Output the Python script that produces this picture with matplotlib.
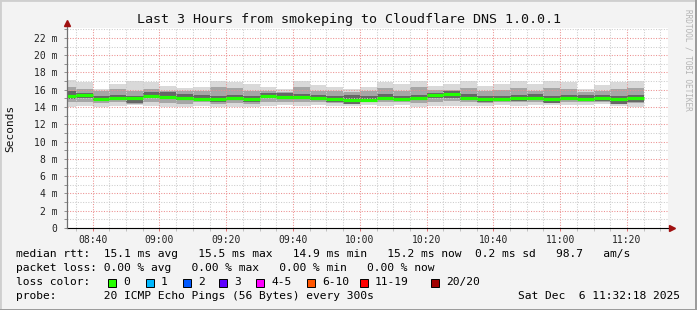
import numpy as np
import pandas as pd
import matplotlib
matplotlib.use("Agg")
import matplotlib.pyplot as plt
import matplotlib.dates as mdates
from matplotlib.patches import Rectangle
from matplotlib.ticker import FixedLocator, FixedFormatter, MultipleLocator


# -------------------------------------------------
# Data
# -------------------------------------------------

# one smoke block per 5 minute step (300 s)
block_start = pd.date_range("2025-12-06 08:30", periods=35, freq="5min")

median_ms = [15.31, 15.43, 14.97, 15.08, 15.06, 15.31, 15.20, 15.08, 14.97, 14.97,
             15.08, 14.97, 15.31, 15.16, 15.16, 15.04, 14.93, 14.85, 14.85, 15.04,
             14.93, 15.08, 15.39, 15.50, 15.08, 14.93, 14.93, 15.04, 15.08, 14.97,
             15.04, 14.93, 15.04, 14.93, 15.10]

smoke_top = [17.13, 16.86, 16.09, 16.67, 17.00, 16.94, 16.47, 16.24, 16.32, 17.01,
             16.94, 16.63, 16.36, 16.09, 17.01, 16.55, 16.36, 16.09, 16.36, 16.94,
             16.63, 17.00, 16.47, 16.70, 17.00, 16.47, 16.70, 17.00, 16.70, 17.00,
             16.86, 16.09, 16.55, 16.86, 17.00]

smoke_upper = [16.3, 16.1, 15.8, 16.1, 15.9, 16.1, 15.9, 15.9, 15.8, 16.3,
               16.2, 15.9, 15.8, 15.7, 16.3, 15.9, 15.8, 15.7, 15.8, 16.2,
               15.9, 16.3, 16.0, 16.0, 16.2, 15.9, 16.0, 16.2, 15.9, 16.2,
               16.1, 15.7, 15.9, 16.1, 16.2]

core_hi = [15.8, 15.6, 15.3, 15.4, 15.3, 15.7, 15.7, 15.5, 15.4, 15.3,
           15.4, 15.3, 15.6, 15.6, 15.5, 15.4, 15.3, 15.4, 15.3, 15.5,
           15.3, 15.4, 15.6, 15.8, 15.5, 15.3, 15.3, 15.4, 15.5, 15.3,
           15.4, 15.4, 15.4, 15.3, 15.4]

core_lo = [14.9, 15.0, 14.7, 14.8, 14.5, 15.0, 15.0, 14.8, 14.7, 14.6,
           14.8, 14.6, 15.0, 14.9, 14.9, 14.8, 14.6, 14.4, 14.6, 14.8,
           14.7, 14.8, 15.0, 15.1, 14.8, 14.6, 14.7, 14.7, 14.8, 14.5,
           14.8, 14.7, 14.7, 14.4, 14.6]

smoke_lower = [14.6, 14.6, 14.5, 14.6, 14.4, 14.6, 14.5, 14.4, 14.6, 14.4,
               14.5, 14.4, 14.6, 14.6, 14.6, 14.6, 14.5, 14.5, 14.6, 14.6,
               14.6, 14.5, 14.6, 14.7, 14.6, 14.5, 14.6, 14.6, 14.6, 14.5,
               14.6, 14.6, 14.6, 14.5, 14.5]

smoke_bottom = [14.04, 14.16, 14.04, 14.16, 14.24, 14.16, 14.04, 14.00, 14.16, 14.04,
                14.04, 14.04, 14.16, 14.24, 14.16, 14.24, 14.16, 14.16, 14.24, 14.16,
                14.24, 14.04, 14.16, 14.16, 14.16, 14.16, 14.24, 14.16, 14.24, 14.24,
                14.24, 14.24, 14.31, 14.16, 14.04]

y_ticks = [0, 2, 4, 6, 8, 10, 12, 14, 16, 18, 20, 22]
y_labels = ["0", "2 m", "4 m", "6 m", "8 m", "10 m", "12 m", "14 m",
            "16 m", "18 m", "20 m", "22 m"]

title = "Last 3 Hours from smokeping to Cloudflare DNS 1.0.0.1"
window_start = "2025-12-06 08:32:18"
window_end = "2025-12-06 11:32:18"

rtt_line = "median rtt:  15.1 ms avg   15.5 ms max   14.9 ms min   15.2 ms now  0.2 ms sd   98.7   am/s"
loss_line = "packet loss: 0.00 % avg   0.00 % max   0.00 % min   0.00 % now"
probe_line = "probe:       20 ICMP Echo Pings (56 Bytes) every 300s"
stamp = "Sat Dec  6 11:32:18 2025"

loss_labels = ["0", "1", "2", "3", "4-5", "6-10", "11-19", "20/20"]
loss_colors = ["#26ff00", "#00b8ff", "#0059ff", "#5e00ff",
               "#ff00ff", "#ff5500", "#ff0000", "#a10000"]


# -------------------------------------------------
# Layout helpers (pixels of the 697x310 image)
# -------------------------------------------------

W, H = 697, 310
BG = "#f3f3f3"
MONO = "DejaVu Sans Mono"
plt.rcParams["font.family"] = MONO


def fx(px):
    return px / W


def fy(py):
    return 1.0 - py / H


fig = plt.figure(figsize=(W / 100, H / 100), dpi=100, facecolor=BG)
ax = fig.add_axes([fx(67), fy(228), fx(668) - fx(67), fy(28) - fy(228)])
ax.set_facecolor("white")

# -------------------------------------------------
# Smoke and median
# -------------------------------------------------

x0 = mdates.date2num(block_start.to_pydatetime())
step = 5.0 / 1440.0

top = np.array(smoke_top)
bot = np.array(smoke_bottom)
up = np.array(smoke_upper)
lo = np.array(smoke_lower)
chi = np.array(core_hi)
clo = np.array(core_lo)

ax.bar(x0, top - bot, bottom=bot, width=step, align="edge",
       color="#d9d9d9", linewidth=0, zorder=1)
ax.bar(x0, up - lo, bottom=lo, width=step, align="edge",
       color="#a6a6a6", linewidth=0, zorder=1.1)
ax.bar(x0, chi - clo, bottom=clo, width=step, align="edge",
       color="#666666", linewidth=0, zorder=1.2)
ax.hlines(median_ms, x0, x0 + step, colors="#22ff00", linewidth=2.3, zorder=4)

# -------------------------------------------------
# Axes, grid, ticks
# -------------------------------------------------

ax.set_xlim(mdates.date2num(pd.Timestamp(window_start)),
            mdates.date2num(pd.Timestamp(window_end)))
ax.set_ylim(0, 23.15)

ax.xaxis.set_major_locator(mdates.MinuteLocator(byminute=[0, 20, 40]))
ax.xaxis.set_minor_locator(mdates.MinuteLocator(byminute=range(0, 60, 5)))
ax.xaxis.set_major_formatter(mdates.DateFormatter("%H:%M"))
ax.yaxis.set_major_locator(FixedLocator(y_ticks))
ax.yaxis.set_major_formatter(FixedFormatter(y_labels))
ax.yaxis.set_minor_locator(MultipleLocator(1))

dot = (0, (1, 1.5))
ax.grid(which="minor", color="#cccccc", linestyle=dot, linewidth=0.75, zorder=3)
ax.grid(which="major", color="#ec9090", linestyle=dot, linewidth=0.75, zorder=3.1)
ax.set_axisbelow(False)

ax.tick_params(axis="both", which="both", direction="out", length=2.2,
               width=0.7, labelsize=7, colors="#222222")
ax.tick_params(axis="x", which="major", color="#e07070", pad=2.5)
ax.tick_params(axis="x", which="minor", color="#c0c0c0")
ax.tick_params(axis="y", which="both", color="#909090", pad=4.5)

for side in ["top", "right", "bottom", "left"]:
    ax.spines[side].set_visible(False)

# axis lines with arrows
ax.plot([0, 1.006], [0, 0], transform=ax.transAxes, color="black",
        linewidth=0.8, clip_on=False, zorder=5)
ax.plot([0, 0], [0, 1.02], transform=ax.transAxes, color="#707070",
        linewidth=0.9, clip_on=False, zorder=5)
ax.plot([1.007], [0], marker=">", markersize=4.5, color="#a01010",
        transform=ax.transAxes, clip_on=False, zorder=6)
ax.plot([0], [1.027], marker="^", markersize=4.5, color="#a01010",
        transform=ax.transAxes, clip_on=False, zorder=6)

# -------------------------------------------------
# Texts
# -------------------------------------------------

fig.text(fx(349), fy(19), title, ha="center", va="center", fontsize=9.6,
         color="#111111")
fig.text(fx(10), fy(128), "Seconds", rotation=90, ha="center", va="center",
         fontsize=8, color="#111111")
fig.text(fx(688), fy(60), "RRDTOOL / TOBI OETIKER", rotation=-90,
         ha="center", va="center", fontsize=5.6, color="#b4b4b4")

fig.text(fx(16), fy(254), rtt_line, ha="left", va="center", fontsize=8.1)
fig.text(fx(16), fy(268), loss_line, ha="left", va="center", fontsize=8.1)
fig.text(fx(16), fy(282), "loss color:", ha="left", va="center", fontsize=8.1)
fig.text(fx(16), fy(296), probe_line, ha="left", va="center", fontsize=8.1)
fig.text(fx(680), fy(296), stamp, ha="right", va="center", fontsize=8.1)

box_px = [108, 146, 183, 219, 256, 307, 360, 431]
for bx, label, col in zip(box_px, loss_labels, loss_colors):
    fig.patches.append(Rectangle((fx(bx), fy(286.5)), fx(8), 8 / H,
                                 transform=fig.transFigure, facecolor=col,
                                 edgecolor="black", linewidth=0.7))
    fig.text(fx(bx + 15), fy(282), label, ha="left", va="center", fontsize=8.1)

# 3d frame around the image
fig.patches.append(Rectangle((0, 0), 1, 1, transform=fig.transFigure,
                             fill=False, edgecolor="#cfcfcf", linewidth=2.0))
fig.patches.append(Rectangle((0, 0), 1, fx(2), transform=fig.transFigure,
                             facecolor="#9c9c9c", linewidth=0))
fig.patches.append(Rectangle((1 - fx(2), 0), fx(2), 1, transform=fig.transFigure,
                             facecolor="#9c9c9c", linewidth=0))

fig.savefig("out.png", dpi=100, facecolor=BG)
